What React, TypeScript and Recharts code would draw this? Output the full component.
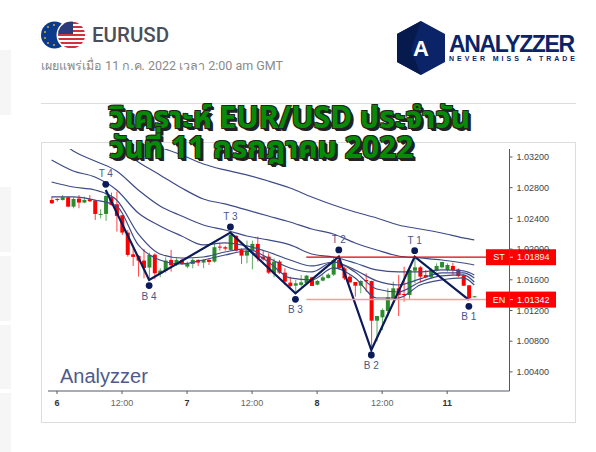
import {
  Bar,
  ComposedChart,
  Line,
  ReferenceLine,
  XAxis,
  YAxis,
} from "recharts";

const hours = [
  -1, 0, 1, 2, 3, 4, 5, 6, 7, 8, 9, 10, 11, 12, 13, 14, 15, 16, 17, 18, 19, 20, 21, 22, 23, 24, 25, 26, 27, 28, 29, 30, 31,
  32, 33, 34, 35, 36, 37, 38, 39, 40, 41, 42, 43, 44, 45, 46, 47, 48, 49, 50, 51, 52, 53, 54, 55, 56, 57, 58, 59, 60, 61,
  62, 63, 64, 65, 66, 67, 68, 69, 70, 71, 72, 73, 74, 75, 76, 77,
];

const opens = [
  1.0264, 1.02653, 1.0264, 1.02675, 1.02553, 1.02658, 1.02606, 1.02649, 1.02636, 1.02449, 1.02458, 1.02675, 1.02584,
  1.02441, 1.02215, 1.01932, 1.01911, 1.0185, 1.01759, 1.01928, 1.01676, 1.0172, 1.01859, 1.01798, 1.01859, 1.01772,
  1.01806, 1.01859, 1.01824, 1.01859, 1.01837, 1.02032, 1.02024, 1.01989, 1.02171, 1.01989, 1.01915, 1.01967, 1.02067,
  1.01902, 1.01902, 1.01685, 1.01837, 1.01693, 1.01563, 1.01524, 1.01533, 1.01554, 1.01632, 1.01537, 1.01589, 1.01624,
  1.01667, 1.01858, 1.01749, 1.01641, 1.01571, 1.01523, 1.01597, 1.01584, 1.01067, 1.01111, 1.01193, 1.01358, 1.01489,
  1.01415, 1.01402, 1.01719, 1.01762, 1.01662, 1.01632, 1.01719, 1.01762, 1.01728, 1.0178, 1.01736, 1.01658, 1.01528,
  1.01376,
];
const highs = [
  1.02684, 1.02662, 1.02705, 1.02684, 1.02675, 1.02705, 1.02684, 1.02705, 1.0264, 1.02519, 1.02771, 1.02736, 1.02749,
  1.02445, 1.02249, 1.0201, 1.01924, 1.01998, 1.01954, 1.01945, 1.0175, 1.01893, 1.01989, 1.0188, 1.0188, 1.01837,
  1.0188, 1.01867, 1.01867, 1.0188, 1.02076, 1.02076, 1.02041, 1.02206, 1.02184, 1.0201, 1.0211, 1.0211, 1.02162,
  1.01989, 1.01945, 1.0188, 1.01858, 1.0175, 1.01641, 1.01598, 1.01663, 1.01663, 1.01641, 1.01598, 1.01658, 1.01685,
  1.01902, 1.01893, 1.01771, 1.01662, 1.01571, 1.01597, 1.01684, 1.01589, 1.01128, 1.01228, 1.01489, 1.01576, 1.01662,
  1.01771, 1.01771, 1.01901, 1.0178, 1.01728, 1.01749, 1.01814, 1.01836, 1.01814, 1.01823, 1.01749, 1.01671, 1.01532,
  1.01389,
];
const lows = [
  1.02588, 1.02619, 1.02632, 1.02545, 1.02532, 1.02532, 1.02597, 1.02614, 1.0238, 1.02401, 1.02367, 1.02566, 1.02228,
  1.02184, 1.01902, 1.0178, 1.01641, 1.0162, 1.0162, 1.01607, 1.01633, 1.01694, 1.01707, 1.0178, 1.01793, 1.0175,
  1.0175, 1.0178, 1.0175, 1.01793, 1.01824, 1.0198, 1.0198, 1.0198, 1.01967, 1.01806, 1.01815, 1.01737, 1.01837,
  1.0185, 1.01676, 1.01633, 1.01676, 1.01533, 1.01502, 1.01415, 1.01511, 1.01533, 1.0152, 1.01528, 1.0158, 1.01615,
  1.0165, 1.01728, 1.01597, 1.01554, 1.0138, 1.01423, 1.01445, 1.00707, 1.00794, 1.00946, 1.0112, 1.01337, 1.01128,
  1.01315, 1.01337, 1.01554, 1.01563, 1.01619, 1.01619, 1.01706, 1.01749, 1.01706, 1.01662, 1.01632, 1.01519, 1.01337,
  1.01371,
];
const closes = [
  1.02597, 1.0264, 1.02675, 1.02553, 1.02653, 1.02606, 1.0264, 1.02623, 1.02458, 1.02458, 1.02692, 1.02575, 1.02432,
  1.02215, 1.01924, 1.01898, 1.0185, 1.01754, 1.01924, 1.01685, 1.0172, 1.0185, 1.01789, 1.01859, 1.01806, 1.01806,
  1.01859, 1.01824, 1.01859, 1.01833, 1.02024, 1.02024, 1.02006, 1.02184, 1.0198, 1.01915, 1.0198, 1.02067, 1.0188,
  1.01867, 1.01693, 1.01837, 1.01693, 1.01576, 1.0152, 1.01554, 1.01567, 1.01654, 1.0152, 1.01585, 1.01632, 1.01667,
  1.01858, 1.0175, 1.01619, 1.01567, 1.01523, 1.01584, 1.0158, 1.01067, 1.01128, 1.01206, 1.01371, 1.01489, 1.01402,
  1.01402, 1.01728, 1.01762, 1.01641, 1.01632, 1.01728, 1.0178, 1.01832, 1.01793, 1.01728, 1.01649, 1.01523, 1.01358,
  1.01385,
];

// moving averages, read every 4 hours
const maHours = [-1, 3, 7, 11, 15, 19, 23, 27, 31, 35, 39, 43, 47, 51, 55, 59, 63, 67, 71, 75, 77];
const maOne = [
  null, null, null, null, 1.03448, 1.0333, 1.03226, 1.03109, 1.03031, 1.02966, 1.02887, 1.02796, 1.02679, 1.02575,
  1.02483, 1.02405, 1.02314, 1.02262, 1.0221, 1.02145, 1.02119,
];
const maTwo = [
  null, null, 1.03513, 1.0333, 1.03135, 1.02966, 1.02796, 1.02653, 1.02588, 1.0251, 1.02431, 1.02353, 1.02262, 1.02197,
  1.0208, 1.01988, 1.0191, 1.01884, 1.01858, 1.01819, 1.01793,
];
const maThree = [
  1.03513, 1.03278, 1.03148, 1.03018, 1.0277, 1.02562, 1.02431, 1.02314, 1.02249, 1.02171, 1.02119, 1.02054, 1.01936,
  1.01897, 1.01819, 1.01728, 1.01702, 1.01702, 1.01728, 1.01715, 1.01663,
];
const maFour = [
  1.03161, 1.03018, 1.02939, 1.0277, 1.0247, 1.02301, 1.02171, 1.02054, 1.0208, 1.02041, 1.01962, 1.01858, 1.0178,
  1.01832, 1.01728, 1.01585, 1.01532, 1.01611, 1.01689, 1.01689, 1.01624,
];
const maFive = [
  1.02874, 1.02809, 1.0277, 1.0264, 1.02197, 1.01936, 1.01884, 1.01897, 1.01962, 1.02002, 1.01884, 1.01754, 1.01702,
  1.01832, 1.01702, 1.0148, 1.01441, 1.01571, 1.0165, 1.01663, 1.01571,
];
const maSix = [
  1.02679, 1.02679, 1.0264, 1.02562, 1.02054, 1.01858, 1.01806, 1.01858, 1.01923, 1.01975, 1.01832, 1.01624, 1.01598,
  1.01754, 1.01624, 1.01363, 1.01363, 1.01532, 1.01598, 1.01624, 1.01532,
];
const maSeries = [maOne, maTwo, maThree, maFour, maFive, maSix];

// swing points
const swingHours = [9, 17, 32, 44, 52, 58, 66, 76];
const swingLevels = [1.02771, 1.01598, 1.02215, 1.01424, 1.01902, 1.00685, 1.01901, 1.01337];
const markerLevels = [1.02844, 1.01524, 1.02289, 1.01346, 1.01989, 1.0062, 1.01979, 1.01254];
const markerLabels = ["T 4", "B 4", "T 3", "B 3", "T 2", "B 2", "T 1", "B 1"];

const stopLevel = 1.01894;
const entryLevel = 1.01342;
const lineStartHour = 46;

const xTicks = [0, 12, 24, 36, 48, 60, 72];
const xTickLabels = ["6", "12:00", "7", "12:00", "8", "12:00", "11"];
const yTicks = [1.032, 1.028, 1.024, 1.02, 1.016, 1.012, 1.008, 1.004];

const rows = hours.map((hour, i) => {
  const row: Record<string, any> = {
    hour,
    open: opens[i],
    close: closes[i],
    range: [lows[i], highs[i]],
  };
  const maIndex = maHours.indexOf(hour);
  if (maIndex >= 0) {
    maSeries.forEach((values, k) => {
      if (values[maIndex] != null) row[`ma${k}`] = values[maIndex];
    });
  }
  const swingIndex = swingHours.indexOf(hour);
  if (swingIndex >= 0) {
    row.swing = swingLevels[swingIndex];
    row.marker = markerLevels[swingIndex];
    row.markerLabel = markerLabels[swingIndex];
  }
  return row;
});

const FONT = '"Liberation Sans", Arial, sans-serif';
const NAVY = "#0b1a58";
const MA_COLOR = "#3f4b88";

function Candle(props: any) {
  const { x, y, width, height, payload } = props;
  const [low, high] = payload.range;
  const perUnit = height / (high - low);
  const top = y + (high - Math.max(payload.open, payload.close)) * perUnit;
  const bodyHeight = Math.max(Math.abs(payload.open - payload.close) * perUnit, 1);
  const color = payload.close >= payload.open ? "#2b8c2e" : "#ff0000";
  const cx = x + width / 2;
  return (
    <g>
      <rect x={cx - 0.5} y={y} width={1} height={height} fill={color} fillOpacity={0.75} />
      <rect x={cx - 2} y={top} width={4} height={bodyHeight} fill={color} />
    </g>
  );
}

function SwingDot(props: any) {
  const { cx, cy, payload, index } = props;
  if (payload.marker == null || cy == null) return <g key={index} />;
  const isTop = payload.markerLabel.startsWith("T");
  return (
    <g key={index}>
      <circle cx={cx} cy={cy} r={3.4} fill={NAVY} />
      <text
        x={cx}
        y={cy + (isTop ? -10 : 11)}
        dy={3}
        textAnchor="middle"
        fontSize={10}
        fontFamily={FONT}
        fill="#48568c"
      >
        {payload.markerLabel}
      </text>
    </g>
  );
}

function XTick(props: any) {
  const { x, y, index } = props;
  const label = xTickLabels[index];
  const isDay = !label.includes(":");
  return (
    <text
      x={x}
      y={y + 10}
      textAnchor="middle"
      fontSize={9}
      fontFamily={FONT}
      fontWeight={isDay ? 700 : 400}
      fill={isDay ? "#333" : "#666"}
    >
      {label}
    </text>
  );
}

function PriceTag({ viewBox, tag, value }: any) {
  const y = viewBox.y;
  const axisX = viewBox.x + viewBox.width;
  return (
    <g>
      <rect x={axisX - 23.5} y={y - 8} width={70} height={16} fill="#ff0000" />
      <line x1={axisX} x2={axisX} y1={y - 8} y2={y + 8} stroke="#ffb0b0" />
      <line x1={axisX} x2={axisX + 3.5} y1={y} y2={y} stroke="#ffd0d0" />
      <text x={axisX - 10.5} y={y + 3} textAnchor="middle" fontSize={9} fontFamily={FONT} fill="#fff">
        {tag}
      </text>
      <text x={axisX + 7.5} y={y + 3} fontSize={9} fontFamily={FONT} fill="#fff">
        {value}
      </text>
    </g>
  );
}

function Flags() {
  return (
    <svg width={48} height={30} style={{ position: "absolute", left: 40, top: 20 }}>
      <defs>
        <clipPath id="usClip">
          <circle cx={31.5} cy={15} r={13.5} />
        </clipPath>
      </defs>
      <circle cx={14.5} cy={15} r={13.5} fill="#0b3a8c" />
      {[[14, 5], [8, 7], [5, 12], [5, 18], [8, 23], [14, 25]].map(([x, y]) => (
        <circle key={`${x}-${y}`} cx={x} cy={y} r={1} fill="#c9b23a" />
      ))}
      <circle cx={31.5} cy={15} r={15} fill="#fff" />
      <g clipPath="url(#usClip)">
        <rect x={17} y={1} width={29} height={28} fill="#fff" />
        {[2, 6, 10, 14, 18, 22, 26].map((y) => (
          <rect key={y} x={17} y={y} width={29} height={2} fill="#d22f3f" />
        ))}
        <rect x={17} y={1} width={16} height={13} fill="#2b3a78" />
      </g>
    </svg>
  );
}

function Logo() {
  return (
    <svg width={185} height={56} style={{ position: "absolute", left: 396, top: 20 }}>
      <polygon points="25,1 49,14 49,42 25,55 1,42 1,14" fill="#0b2468" />
      <polygon points="25,1 1,14 1,42 25,55 15,30" fill="#071a4d" />
      <text x={25} y={36} textAnchor="middle" fontSize={22} fontWeight={700} fontFamily={FONT} fill="#fff">
        A
      </text>
      <text x={53} y={32} fontSize={23} fontWeight={700} fontFamily={FONT} fill="#0b2468" textLength={126}>
        ANALYZZER
      </text>
      <text x={53} y={41} fontSize={7} fontWeight={700} fontFamily={FONT} fill="#0b2468" textLength={126}>
        NEVER MISS A TRADE
      </text>
    </svg>
  );
}

const sideBlocks = [
  [50, 65],
  [187, 65],
  [256, 65],
  [325, 64],
  [393, 59],
];

const titleStyle: React.CSSProperties = {
  position: "absolute",
  left: 109,
  fontFamily: '"Noto Sans", "Noto Sans Thai", "DejaVu Sans", sans-serif',
  fontSize: 30,
  fontWeight: 700,
  lineHeight: "30px",
  color: "#078a07",
  textShadow: "2px 2px 0 #222, 3px 3px 0 #222, -1px -1px 0 #222, 1px -1px 0 #222, -1px 1px 0 #222",
  whiteSpace: "nowrap",
  zIndex: 5,
};

export default function App() {
  return (
    <div style={{ position: "absolute", left: 0, top: 0, width: 596, height: 452, background: "#fff", overflow: "hidden" }}>
      {sideBlocks.map(([top, height]) => (
        <div key={top} style={{ position: "absolute", left: 0, top, width: 11, height, background: "#f6f6f6" }} />
      ))}
      <Flags />
      <div style={{ position: "absolute", left: 92, top: 23, fontFamily: "Roboto", fontWeight: 500, fontSize: 20.5, color: "#4a4f59", lineHeight: "24px" }}>
        EURUSD
      </div>
      <div style={{ position: "absolute", left: 41, top: 58, fontFamily: "Roboto, 'Noto Sans'", fontSize: 12.5, color: "#8a8a8a", lineHeight: "16px", whiteSpace: "nowrap" }}>
        เผยแพร่เมื่อ 11 ก.ค. 2022 เวลา 2:00 am GMT
      </div>
      <Logo />
      <div style={{ position: "absolute", left: 41, top: 103, width: 535, height: 1, background: "#ddd" }} />
      <div style={{ ...titleStyle, top: 102 }}>วิเคราะห์ EUR/USD ประจำวัน</div>
      <div style={{ ...titleStyle, top: 132 }}>วันที่ 11 กรกฎาคม 2022</div>

      <div style={{ position: "absolute", left: 41, top: 142, width: 533, height: 279, border: "1px solid #ddd" }} />
      <div style={{ position: "absolute", left: 60, top: 364, fontFamily: FONT, fontSize: 20, lineHeight: "24px", color: "#4f5a8c" }}>
        Analyzzer
      </div>

      <div style={{ position: "absolute", left: 0, top: 0 }}>
        <ComposedChart
          width={596}
          height={452}
          data={rows}
          margin={{ top: 149, right: 0, bottom: 0, left: 48 }}
        >
          <XAxis
            dataKey="hour"
            type="number"
            domain={[-1.66, 83.5]}
            allowDataOverflow
            ticks={xTicks}
            tick={<XTick />}
            tickSize={3}
            height={61}
            stroke="#55586a"
            interval={0}
          />
          <YAxis
            orientation="right"
            type="number"
            domain={[1.00151, 1.03304]}
            allowDataOverflow
            ticks={yTicks}
            tickFormatter={(v: number) => v.toFixed(5)}
            tick={{ fontSize: 9, fontFamily: FONT, fill: "#444" }}
            tickSize={3}
            tickMargin={4}
            width={86.5}
            stroke="#55586a"
            interval={0}
          />
          {maSeries.map((_, k) => (
            <Line
              key={k}
              dataKey={`ma${k}`}
              type="monotone"
              stroke={MA_COLOR}
              strokeWidth={1.2}
              dot={false}
              connectNulls
              isAnimationActive={false}
            />
          ))}
          <Bar dataKey="range" barSize={4} shape={<Candle />} isAnimationActive={false} />
          <Line
            dataKey="swing"
            stroke={NAVY}
            strokeWidth={2.2}
            dot={false}
            connectNulls
            isAnimationActive={false}
          />
          <Line
            dataKey="marker"
            stroke="none"
            dot={<SwingDot />}
            connectNulls
            isAnimationActive={false}
          />
          <ReferenceLine
            segment={[
              { x: lineStartHour, y: stopLevel },
              { x: 83.5, y: stopLevel },
            ]}
            stroke="#e00000"
            strokeWidth={1.2}
            label={<PriceTag tag="ST" value={stopLevel.toFixed(5)} />}
          />
          <ReferenceLine
            segment={[
              { x: lineStartHour, y: entryLevel },
              { x: 83.5, y: entryLevel },
            ]}
            stroke="#ff9a9a"
            strokeWidth={1.5}
            label={<PriceTag tag="EN" value={entryLevel.toFixed(5)} />}
          />
        </ComposedChart>
      </div>
    </div>
  );
}
